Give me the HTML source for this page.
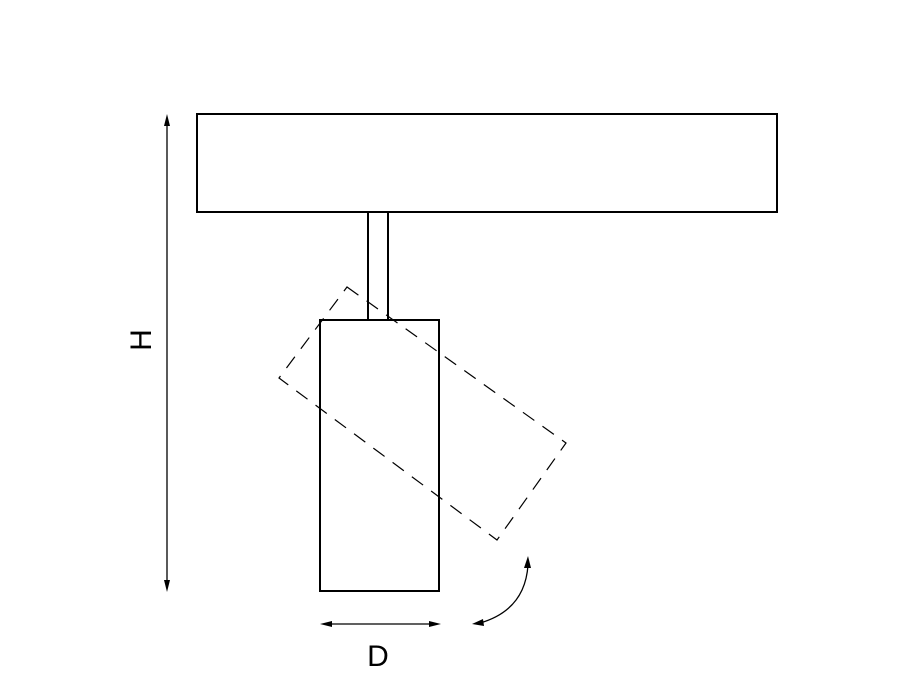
<!DOCTYPE html>
<html><head><style>body{margin:0;background:#fff}</style></head><body>
<svg width="900" height="675" viewBox="0 0 900 675" xmlns="http://www.w3.org/2000/svg">
<rect width="900" height="675" fill="#fff"/>
<g fill="none" stroke="#000" stroke-width="2">
<rect x="197" y="114" width="580" height="98"/>
<line x1="368" y1="212" x2="368" y2="320"/>
<line x1="388" y1="212" x2="388" y2="320"/>
<rect x="320" y="320" width="119" height="271"/>
</g>
<polygon points="347,287 566,443 497,540 279,378" fill="none" stroke="#000" stroke-width="1.2" stroke-dasharray="14,10"/>
<g stroke="#000" stroke-width="1.3" fill="none">
<line x1="167" y1="120" x2="167" y2="586"/>
<line x1="326" y1="624" x2="435" y2="624"/>
<path d="M480,623 Q525,610 528,565"/>
</g>
<g fill="#000">
<polygon points="167,114 164,126 170,126"/>
<polygon points="167,592 164,580 170,580"/>
<polygon points="320,624 332,621 332,627"/>
<polygon points="441,624 429,621 429,627"/>
<polygon points="472,624 483,619 484,626"/>
<polygon points="528,556 524,568 531,568"/>
</g>
<text x="378" y="666" font-family="Liberation Sans, sans-serif" font-size="30" text-anchor="middle">D</text>
<text transform="translate(151,340) rotate(-90)" font-family="Liberation Sans, sans-serif" font-size="30" text-anchor="middle">H</text>
</svg>
</body></html>
